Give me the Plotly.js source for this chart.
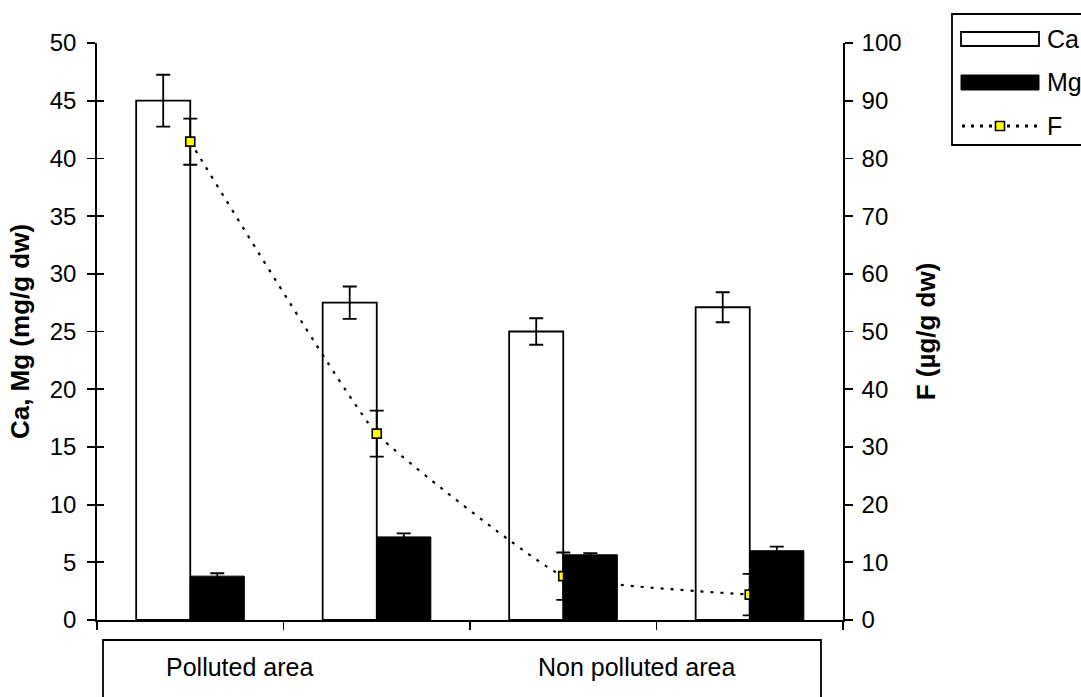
<!DOCTYPE html>
<html>
<head>
<meta charset="utf-8">
<script src="https://cdn.plot.ly/plotly-3.0.1.min.js"></script>
<style>html,body{margin:0;padding:0;background:#fff}#chart{width:1081px;height:697px}</style>
</head>
<body>
<div id="chart"></div>
<script>
// ---- data ----
var categories = ['Polluted 1', 'Polluted 2', 'Non polluted 1', 'Non polluted 2'];
var caValues = [45.0, 27.5, 25.0, 27.1];
var caErrors = [2.25, 1.4, 1.15, 1.3];
var mgValues = [3.8, 7.2, 5.65, 6.0];
var mgErrors = [0.25, 0.3, 0.15, 0.35];
var fValues = [82.9, 32.3, 7.6, 4.4];
var fErrors = [4.0, 4.0, 4.1, 3.6];
var groupLabels = ['Polluted area', 'Non polluted area'];
var legendNames = ['Ca', 'Mg', 'F'];
var leftTitle = 'Ca, Mg (mg/g dw)';
var rightTitle = 'F (\u00b5g/g dw)';

var FONT = 'Liberation Sans, Arial, sans-serif';
var barW = 0.29;

var traceCa = {
  type: 'bar', x: categories, y: caValues, xaxis: 'x', yaxis: 'y',
  width: barW, offset: -barW,
  marker: {color: '#ffffff', line: {color: '#000000', width: 1.8}},
  error_y: {type: 'data', array: caErrors, visible: true, color: '#000000', thickness: 1.8, width: 7},
  showlegend: false, name: legendNames[0]
};
var traceF = {
  type: 'scatter', mode: 'lines+markers', x: categories, y: fValues, xaxis: 'x', yaxis: 'y2',
  line: {color: '#000000', width: 2.2, dash: '3px,7px', shape: 'spline', smoothing: 0.35},
  marker: {symbol: 'square', size: 9, color: '#ffff00', line: {color: '#000000', width: 1.6}},
  error_y: {type: 'data', array: fErrors, visible: true, color: '#000000', thickness: 1.8, width: 7},
  showlegend: false, name: legendNames[2], cliponaxis: false
};
var traceMg = {
  type: 'bar', x: categories, y: mgValues, xaxis: 'x', yaxis: 'y3',
  width: barW, offset: 0,
  marker: {color: '#000000', line: {color: '#000000', width: 1}},
  error_y: {type: 'data', array: mgErrors, visible: true, color: '#000000', thickness: 1.8, width: 7},
  showlegend: false, name: legendNames[1]
};

function px2x(px) { return (px - 97) / 746; }
function px2y(py) { return (620 - py) / 577; }

var shapes = [
  // group label box
  {type: 'rect', xref: 'paper', yref: 'paper', x0: px2x(103), x1: px2x(821), y0: px2y(640), y1: px2y(720),
   line: {color: '#000', width: 1.8}, fillcolor: 'rgba(0,0,0,0)'},
  // legend box
  {type: 'rect', xref: 'paper', yref: 'paper', x0: px2x(952), x1: px2x(1090), y0: px2y(145), y1: px2y(14),
   line: {color: '#000', width: 1.8}, fillcolor: '#fff'},
  // Ca swatch
  {type: 'rect', xref: 'paper', yref: 'paper', x0: px2x(961), x1: px2x(1039), y0: px2y(46), y1: px2y(32),
   line: {color: '#000', width: 1.8}, fillcolor: '#fff'},
  // Mg swatch
  {type: 'rect', xref: 'paper', yref: 'paper', x0: px2x(961), x1: px2x(1039), y0: px2y(90), y1: px2y(75),
   line: {color: '#000', width: 1}, fillcolor: '#000'},
  // F line sample
  {type: 'line', xref: 'paper', yref: 'paper', x0: px2x(962), x1: px2x(1039), y0: px2y(126), y1: px2y(126),
   line: {color: '#000', width: 3, dash: '3px,6px'}},
  // F marker sample
  {type: 'rect', xref: 'paper', yref: 'paper', x0: px2x(995.5), x1: px2x(1004.5), y0: px2y(130.5), y1: px2y(121.5),
   line: {color: '#000', width: 1.6}, fillcolor: '#ffff00'}
];

var annotations = [
  {xref: 'paper', yref: 'paper', x: px2x(239), y: px2y(667), text: groupLabels[0], showarrow: false,
   xanchor: 'center', yanchor: 'middle', font: {family: FONT, size: 25, color: '#000'}},
  {xref: 'paper', yref: 'paper', x: px2x(636), y: px2y(667), text: groupLabels[1], showarrow: false,
   xanchor: 'center', yanchor: 'middle', font: {family: FONT, size: 25, color: '#000'}},
  {xref: 'paper', yref: 'paper', x: px2x(1045), y: px2y(39), text: legendNames[0], showarrow: false,
   xanchor: 'left', yanchor: 'middle', font: {family: FONT, size: 25, color: '#000'}},
  {xref: 'paper', yref: 'paper', x: px2x(1045), y: px2y(82), text: legendNames[1], showarrow: false,
   xanchor: 'left', yanchor: 'middle', font: {family: FONT, size: 25, color: '#000'}},
  {xref: 'paper', yref: 'paper', x: px2x(1045), y: px2y(126), text: legendNames[2], showarrow: false,
   xanchor: 'left', yanchor: 'middle', font: {family: FONT, size: 25, color: '#000'}}
];

var tickFont = {family: FONT, size: 24, color: '#000'};
var titleFont = {family: FONT, size: 26, color: '#000', weight: 'bold'};

var layout = {
  width: 1081, height: 697,
  margin: {l: 97, r: 238, t: 43, b: 77, pad: 0},
  paper_bgcolor: '#fff', plot_bgcolor: '#fff',
  showlegend: false,
  barmode: 'overlay',
  font: {family: FONT, size: 24, color: '#000'},
  xaxis: {
    type: 'category', categoryorder: 'array', categoryarray: categories,
    range: [-0.5, 3.5], tickson: 'boundaries',
    showline: true, linecolor: '#000', linewidth: 1.8,
    ticks: 'outside', ticklen: 8, tickwidth: 1.8, tickcolor: '#000',
    showticklabels: false, showgrid: false, zeroline: false, fixedrange: true
  },
  xaxis2: {
    overlaying: 'x', anchor: 'y', type: 'linear', range: [-0.5, 3.5],
    tickmode: 'array', tickvals: [-0.5, 0.5, 1.5, 2.5, 3.5],
    ticks: 'inside', ticklen: 7, tickwidth: 1.8, tickcolor: '#000',
    showticklabels: false, showline: false, showgrid: false, zeroline: false
  },
  yaxis: {
    range: [0, 50], dtick: 5, tick0: 0,
    showline: true, linecolor: '#000', linewidth: 1.8,
    ticks: 'outside', ticklen: 8, tickwidth: 1.8, tickcolor: '#000',
    tickfont: tickFont, ticklabelstandoff: 6,
    showgrid: false, zeroline: false,
    title: {text: leftTitle, font: titleFont, standoff: 12}
  },
  yaxis2: {
    overlaying: 'y', side: 'right', anchor: 'x',
    range: [0, 100], dtick: 10, tick0: 0,
    showline: true, linecolor: '#000', linewidth: 1.8,
    ticks: 'outside', ticklen: 8, tickwidth: 1.8, tickcolor: '#000',
    tickfont: tickFont, ticklabelstandoff: 4,
    showgrid: false, zeroline: false,
    title: {text: rightTitle, font: titleFont, standoff: 16}
  },
  yaxis3: {
    overlaying: 'y', side: 'left', anchor: 'x',
    range: [0, 50], dtick: 5, tick0: 0,
    ticks: 'inside', ticklen: 7, tickwidth: 1.8, tickcolor: '#000',
    showticklabels: false, showline: false, showgrid: false, zeroline: false
  },
  yaxis4: {
    overlaying: 'y', side: 'right', anchor: 'x',
    range: [0, 100], dtick: 10, tick0: 0,
    ticks: 'inside', ticklen: 7, tickwidth: 1.8, tickcolor: '#000',
    showticklabels: false, showline: false, showgrid: false, zeroline: false
  },
  shapes: shapes,
  annotations: annotations
};

Plotly.newPlot('chart', [traceCa, traceF, traceMg], layout, {displayModeBar: false, staticPlot: true});
</script>
</body>
</html>
